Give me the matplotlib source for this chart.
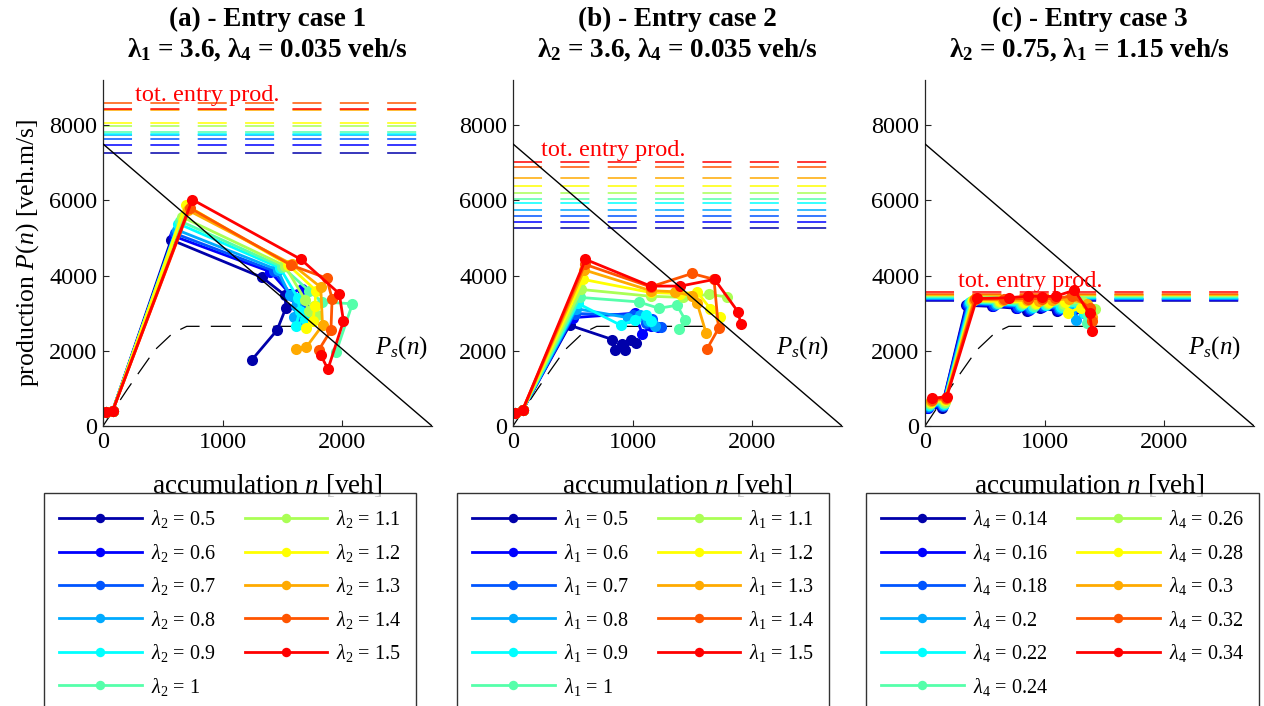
import matplotlib
matplotlib.use('Agg')
import matplotlib.pyplot as plt

plt.rcParams['font.family'] = ['Liberation Serif', 'DejaVu Serif']
plt.rcParams['mathtext.fontset'] = 'custom'
plt.rcParams['mathtext.rm'] = 'Liberation Serif'
plt.rcParams['mathtext.it'] = 'Liberation Serif:italic'
plt.rcParams['mathtext.bf'] = 'Liberation Serif:bold'

# ---------------- data ----------------
titles = ['(a) - Entry case 1' + '\n' + r'$\mathbf{\lambda_1}$ = 3.6, $\mathbf{\lambda_4}$ = 0.035 veh/s',
          '(b) - Entry case 2' + '\n' + r'$\mathbf{\lambda_2}$ = 3.6, $\mathbf{\lambda_4}$ = 0.035 veh/s',
          '(c) - Entry case 3' + '\n' + r'$\mathbf{\lambda_2}$ = 0.75, $\mathbf{\lambda_1}$ = 1.15 veh/s']

legend_var = ['2', '1', '4']
values_a = ['0.5', '0.6', '0.7', '0.8', '0.9', '1', '1.1', '1.2', '1.3', '1.4', '1.5']
values_b = ['0.5', '0.6', '0.7', '0.8', '0.9', '1', '1.1', '1.2', '1.3', '1.4', '1.5']
values_c = ['0.14', '0.16', '0.18', '0.2', '0.22', '0.24', '0.26', '0.28', '0.3', '0.32', '0.34']

# total entry production per series [veh.m/s]
entry_a = [7260, 7480, 7640, 7730, 7775, 7820, 7970, 8060, 8400, 8600, 8420]
entry_b = [5260, 5420, 5580, 5740, 5920, 6030, 6190, 6380, 6590, 6880, 7010]
entry_c = [3330, 3350, 3370, 3390, 3410, 3430, 3450, 3470, 3490, 3520, 3550]

# supply line Ps(n)
ps_n = [0, 2750]
ps_p = [7500, 0]

# network MFD (dashed)
mfd_n = [0, 100, 200, 300, 433, 583, 700, 1655]
mfd_p = [0, 480, 960, 1420, 2020, 2470, 2650, 2650]

# trajectories, panel (a)
traj_a_n = [
    [25, 80, 570, 1330, 1520, 1530, 1455, 1245],
    [25, 80, 590, 1400, 1560, 1660, 1620, 1700],
    [25, 80, 600, 1430, 1580, 1640, 1700, 1650],
    [25, 80, 615, 1460, 1560, 1615, 1600, 1690],
    [25, 80, 630, 1480, 1630, 1645, 1610, 1690],
    [25, 80, 645, 1500, 1720, 1830, 2085, 1950],
    [25, 80, 660, 1520, 1690, 1720, 1760, 1790],
    [25, 80, 690, 1550, 1780, 1770, 1755, 1700],
    [25, 80, 710, 1580, 1820, 1835, 1700, 1610],
    [25, 80, 725, 1570, 1870, 1915, 1905, 1805],
    [25, 80, 747, 1655, 1975, 2010, 1880, 1820],
]
traj_a_p = [
    [360, 400, 4950, 3950, 3480, 3150, 2550, 1760],
    [360, 400, 5050, 4100, 3520, 3650, 3300, 3000],
    [360, 400, 5120, 4120, 3450, 3250, 3100, 2850],
    [360, 400, 5220, 4150, 3480, 3180, 2900, 3000],
    [360, 400, 5380, 4200, 3400, 3050, 2650, 2850],
    [360, 400, 5450, 4230, 3600, 3300, 3250, 1980],
    [360, 400, 5560, 4260, 3350, 3050, 3200, 2950],
    [360, 400, 5880, 4280, 3600, 3180, 2800, 2600],
    [360, 400, 5740, 4300, 3690, 2680, 2100, 2060],
    [360, 400, 5800, 4280, 3930, 3380, 2540, 2030],
    [360, 400, 6020, 4430, 3520, 2790, 1510, 1890],
]

# trajectories, panel (b)
traj_b_n = [
    [17, 80, 473, 830, 850, 915, 940, 985, 1030],
    [17, 80, 500, 1020, 1080, 1150, 1210],
    [17, 80, 515, 1000, 1110, 1240, 1160],
    [17, 80, 530, 960, 1060, 1130, 1190],
    [17, 80, 542, 900, 1020, 1110, 1150],
    [17, 80, 556, 1050, 1220, 1370, 1440, 1390],
    [17, 80, 570, 1150, 1420, 1640, 1790],
    [17, 80, 584, 1150, 1400, 1540, 1650, 1730],
    [17, 80, 595, 1150, 1350, 1500, 1540, 1615],
    [17, 80, 600, 1150, 1496, 1680, 1718, 1621],
    [17, 80, 606, 1150, 1400, 1685, 1880, 1906],
]
traj_b_p = [
    [350, 420, 2680, 2300, 2020, 2170, 2020, 2290, 2200],
    [350, 420, 2880, 3000, 2450, 2650, 2620],
    [350, 420, 2990, 2950, 2750, 2630, 2850],
    [350, 420, 3120, 2880, 2950, 2800, 2650],
    [350, 420, 3260, 2680, 2820, 2950, 2800],
    [350, 420, 3420, 3300, 3130, 3210, 2820, 2580],
    [350, 420, 3630, 3450, 3420, 3500, 3430],
    [350, 420, 3900, 3550, 3520, 3560, 3120, 2900],
    [350, 420, 4150, 3600, 3570, 3460, 3260, 2460],
    [350, 420, 4300, 3700, 4055, 3900, 2594, 2045],
    [350, 420, 4430, 3720, 3720, 3900, 3040, 2700],
]

# trajectories, panel (c)
traj_c_n = [
    [20, 140, 345, 560, 760, 850, 960, 1100, 1250],
    [24, 144, 352, 570, 770, 870, 980, 1110, 1260, 1330],
    [28, 148, 360, 580, 780, 880, 990, 1120, 1270, 1350],
    [32, 152, 368, 590, 790, 890, 1000, 1130, 1250, 1260],
    [36, 156, 376, 600, 800, 900, 1010, 1140, 1290, 1330],
    [40, 160, 384, 610, 810, 910, 1020, 1150, 1300, 1350],
    [44, 164, 392, 620, 820, 920, 1030, 1160, 1320, 1420],
    [48, 168, 400, 630, 830, 930, 1040, 1170, 1195, 1300],
    [52, 172, 410, 650, 850, 950, 1060, 1200, 1350, 1400],
    [56, 176, 420, 660, 860, 980, 1090, 1230, 1380, 1400],
    [60, 182, 433, 700, 859, 980, 1096, 1249, 1375, 1397],
]
traj_c_p = [
    [470, 490, 3210, 3180, 3130, 3060, 3150, 3060, 3120],
    [490, 520, 3230, 3200, 3150, 3090, 3170, 3080, 3140, 3000],
    [510, 545, 3250, 3220, 3170, 3110, 3190, 3110, 3160, 2950],
    [530, 570, 3270, 3240, 3190, 3140, 3210, 3140, 3180, 2830],
    [550, 595, 3290, 3260, 3210, 3170, 3230, 3170, 3200, 3000],
    [580, 620, 3300, 3280, 3240, 3200, 3250, 3200, 3220, 2730],
    [610, 650, 3320, 3300, 3270, 3240, 3280, 3240, 3300, 3120],
    [640, 680, 3340, 3320, 3300, 3280, 3310, 3290, 3010, 3150],
    [670, 710, 3360, 3350, 3340, 3320, 3350, 3380, 3250, 2900],
    [700, 740, 3380, 3380, 3390, 3380, 3400, 3450, 3150, 2800],
    [735, 780, 3391, 3410, 3453, 3440, 3453, 3612, 2993, 2532],
]

entry_label_pos = [(270, 8790), (235, 7330), (275, 3850)]
ps_label_pos = [(2270, 2080), (2200, 2080), (2200, 2080)]

colors = [(0, 0, 2/3), (0, 0, 1), (0, 1/3, 1), (0, 2/3, 1), (0, 1, 1),
          (1/3, 1, 2/3), (2/3, 1, 1/3), (1, 1, 0), (1, 2/3, 0), (1, 1/3, 0), (1, 0, 0)]

# ---------------- figure ----------------
W, H = 1264, 706
fig = plt.figure(figsize=(W / 100, H / 100), dpi=100)
axes_left_px = [103, 513, 925]
legend_left_px = [44, 457, 866]
ax_w, ax_top, ax_bot = 329, 80, 426
axc = (0.15, 0.15, 0.15)

panels = [
    (traj_a_n, traj_a_p, entry_a, values_a),
    (traj_b_n, traj_b_p, entry_b, values_b),
    (traj_c_n, traj_c_p, entry_c, values_c),
]

for k, (tn, tp, entry, vals) in enumerate(panels):
    ax = fig.add_axes([axes_left_px[k] / W, (H - ax_bot) / H, ax_w / W, (ax_bot - ax_top) / H])
    # total entry production lines
    for i, v in enumerate(entry):
        ax.plot(ps_n, [v, v], color=colors[i], lw=1.1, ls=(0, (19, 12)), zorder=1)
    ax.text(entry_label_pos[k][0], entry_label_pos[k][1], 'tot. entry prod.', color='red',
            fontsize=17.5, ha='left', va='center', zorder=5)
    # MFD dashed
    ax.plot(mfd_n, mfd_p, color='black', lw=0.9, ls=(0, (16, 9)), zorder=1)
    # trajectories
    handles = []
    for i in range(len(tn)):
        h, = ax.plot(tn[i], tp[i], '-o', color=colors[i], lw=2.0, ms=8, mew=0,
                     label=r'$\lambda_{%s}$ = %s' % (legend_var[k], vals[i]), zorder=2)
        handles.append(h)
    # supply line
    ax.plot(ps_n, ps_p, color='black', lw=1.0, zorder=3)
    ax.text(ps_label_pos[k][0], ps_label_pos[k][1], r'$P_s(n)$', fontsize=18,
            ha='left', va='center', zorder=5)

    ax.set_xlim(0, 2750)
    ax.set_ylim(0, 9200)
    ax.set_xticks([0, 1000, 2000])
    ax.set_yticks([0, 2000, 4000, 6000, 8000])
    for s in ['top', 'right']:
        ax.spines[s].set_visible(False)
    for s in ['left', 'bottom']:
        ax.spines[s].set_color(axc)
        ax.spines[s].set_linewidth(0.9)
    ax.tick_params(direction='in', length=4, width=0.8, colors=axc, labelsize=17.5,
                   labelcolor='black', pad=4)
    ax.set_xlabel(r'accumulation $n$ [veh]', fontsize=19.5, labelpad=14)
    if k == 0:
        ax.set_ylabel(r'production $P(n)$ [veh.m/s]', fontsize=18.5, labelpad=6)
    ax.set_title(titles[k], fontsize=19.5, fontweight='bold', pad=17, linespacing=1.2)

    leg = fig.legend(handles=handles, ncol=2, loc='upper left',
                     bbox_to_anchor=(legend_left_px[k] / W, 1 - 493 / H),
                     fontsize=14.5, frameon=True, fancybox=False, edgecolor='black',
                     handlelength=4.1, handletextpad=0.45, columnspacing=1.45,
                     labelspacing=0.57, borderpad=0.75, borderaxespad=0, markerscale=0.85)
    leg.get_frame().set_linewidth(1.0)
    leg.set_zorder(10)

fig.savefig('out.png', dpi=100)
